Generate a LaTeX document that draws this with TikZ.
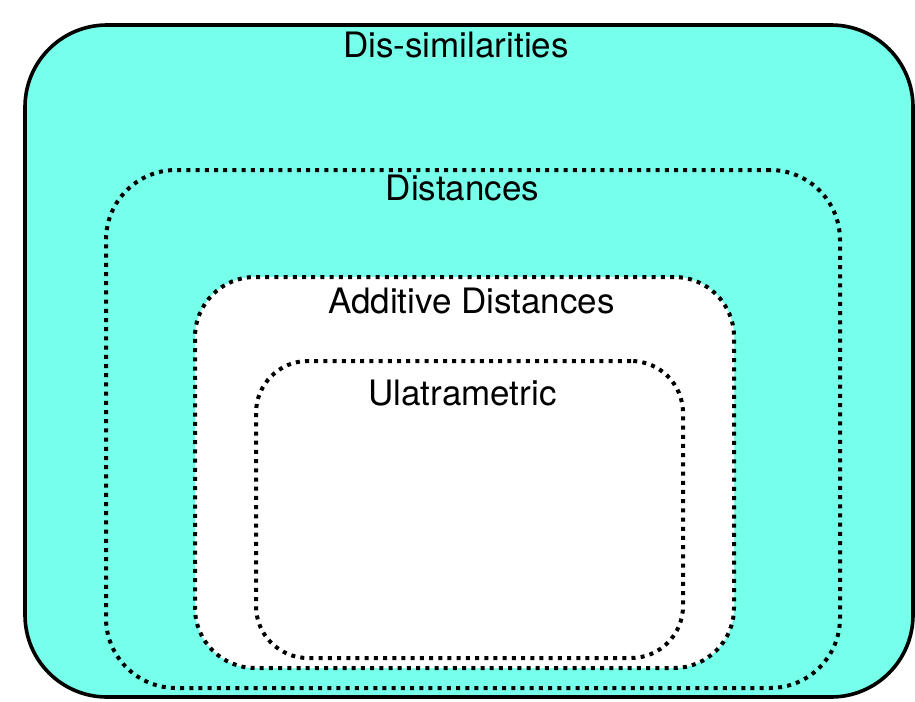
\documentclass[tikz,border=0pt]{standalone}
\usepackage{xcolor}
\usepackage{fontspec}
\setmainfont{TeX Gyre Heros}
\usetikzlibrary{positioning}
\definecolor{metric cyan}{RGB}{118,255,234}

\begin{document}
\begin{tikzpicture}[x=1pt, y=-1pt,
					set box/.style={rounded corners=#1, inner sep=0pt, outer sep=0pt},
					solid set/.style={set box=82pt, draw, line width=3.6pt, fill=metric cyan},
					dotted set/.style={set box=#1, draw, line width=4pt, dash pattern=on 4pt off 5.2pt},
					set label/.style={anchor=base, font=\fontsize{35}{40}\selectfont},
				]
					\useasboundingbox (0,0) rectangle (915,701);
					
					\node[solid set, minimum width=888pt, minimum height=672pt] (dissim) at (469,361) {};
					\node[dotted set=70pt, minimum width=734pt, minimum height=518pt] (dist) at (473,429) {};
					\node[dotted set=60pt, fill=white, minimum width=539pt, minimum height=391pt] (addit) at (464.5,472.5) {};
					\node[dotted set=52pt, minimum width=427pt, minimum height=297pt] (ultra) at (469.5,509.5) {};
					
					\node[set label] (dissim label) at (456,57) {Dis-similarities};
					\node[set label] (dist label) at (462.5,200) {Distances};
					\node[set label] (addit label) at (471.5,313) {Additive Distances};
					\node[set label] (ultra label) at (462.5,405) {Ulatrametric};
				\end{tikzpicture}
\end{document}
